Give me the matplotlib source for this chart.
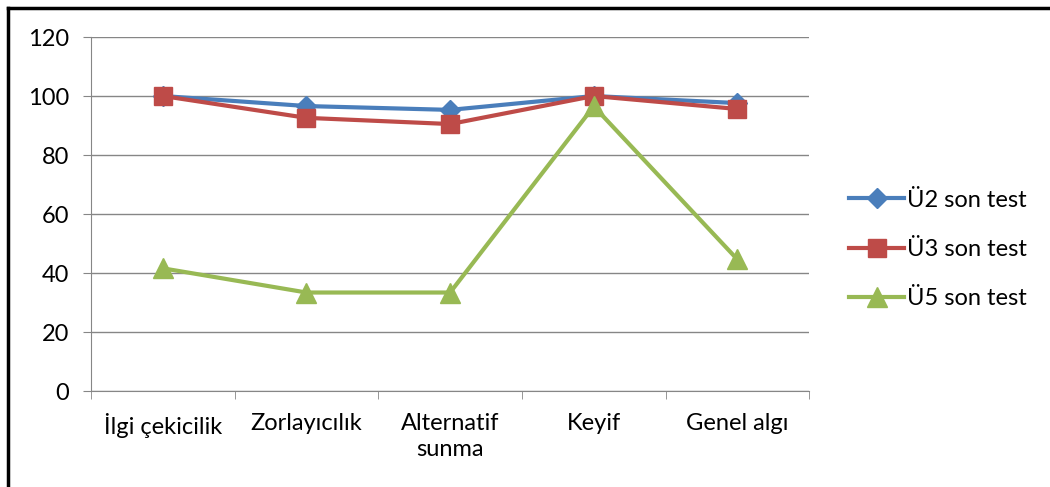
import numpy as np
import matplotlib.pyplot as plt
from matplotlib.lines import Line2D

plt.rcParams['font.family'] = ['Lato', 'DejaVu Sans']

# data
categories = ['İlgi çekicilik', 'Zorlayıcılık', 'Alternatif\nsunma', 'Keyif', 'Genel algı']
u2 = [100, 96.6, 95.3, 100, 97.6]
u3 = [100, 92.6, 90.5, 100, 95.6]
u5 = [41.6, 33.4, 33.4, 96.5, 44.6]

fig = plt.figure(figsize=(10.5, 4.87), dpi=100)
ax = fig.add_axes([0.0867, 0.197, 0.684, 0.727])

x = np.arange(len(categories))
ax.plot(x, u2, color='#4A7EBB', lw=3, marker='D', ms=10, label='Ü2 son test')
ax.plot(x, u3, color='#BE4B48', lw=3, marker='s', ms=13, label='Ü3 son test')
ax.plot(x, u5, color='#98B954', lw=3, marker='^', ms=14, label='Ü5 son test')

ax.set_xlim(-0.5, len(categories) - 0.5)
ax.set_ylim(0, 120)
ax.set_yticks(range(0, 121, 20))
ax.set_xticks(x)
ax.set_xticklabels(categories, linespacing=1.3)
ax.set_xticks(np.arange(-0.5, len(categories)), minor=True)
ax.tick_params(axis='x', which='major', length=0, pad=16, labelsize=17)
ax.tick_params(axis='x', which='minor', length=6, color='#868686')
ax.tick_params(axis='y', length=6, color='#868686', labelsize=17, pad=10)

ax.grid(axis='y', color='#868686', lw=1)
ax.set_axisbelow(True)
for s in ['top', 'right']:
    ax.spines[s].set_visible(False)
for s in ['left', 'bottom']:
    ax.spines[s].set_color('#868686')

ax.legend(loc='center left', bbox_to_anchor=(1.056, 0.40), frameon=False,
          fontsize=17, handlelength=2.3, handletextpad=0.12, labelspacing=1.2,
          borderpad=0, borderaxespad=0)

# frame lines on the left and top only
fig.add_artist(Line2D([0.008, 0.008], [0, 0.984], transform=fig.transFigure,
                      color='black', lw=2.5))
fig.add_artist(Line2D([0.008, 1.0], [0.984, 0.984], transform=fig.transFigure,
                      color='black', lw=2.5))

fig.savefig('out.png', dpi=100)
